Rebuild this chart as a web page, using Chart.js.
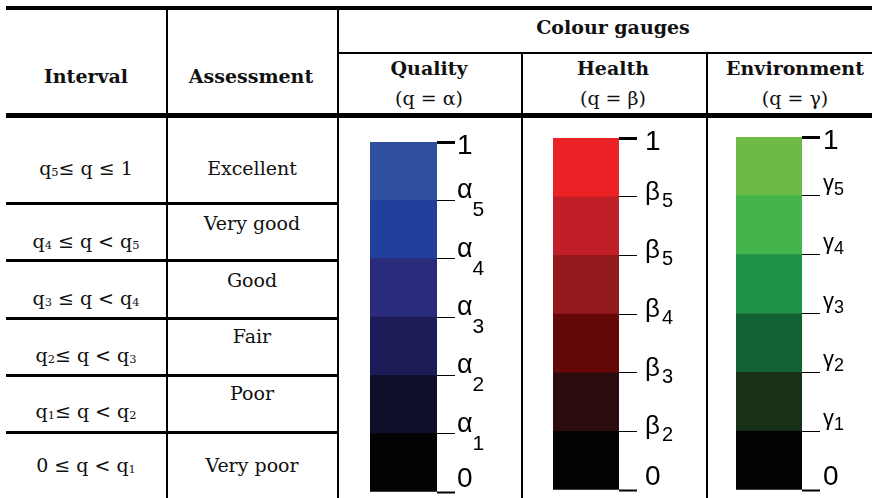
<!DOCTYPE html>
<html>
<head>
<meta charset="utf-8">
<script src="https://cdn.jsdelivr.net/npm/chart.js@4.4.1/dist/chart.umd.min.js"></script>
<style>
body{margin:0;width:872px;height:498px;overflow:hidden;background:#fff;position:relative;font-family:"DejaVu Serif",serif;color:#111}
.ln{position:absolute;background:#000}
.t{position:absolute;line-height:1;white-space:nowrap;transform:translateX(-50%)}
.b{font-weight:bold}
.s{font-size:0.6em;vertical-align:-0.12em}
canvas{position:absolute}
</style>
</head>
<body>
<canvas id="quality" width="140" height="368" style="left:360px;top:132px"></canvas>
<canvas id="health" width="139" height="370" style="left:543px;top:128px"></canvas>
<canvas id="environment" width="139" height="371" style="left:726px;top:127px"></canvas>
<script>
// table text
var intervals = [
    'q<span class="s">5</span>≤ q ≤ 1',
    'q<span class="s">4</span> ≤ q &lt; q<span class="s">5</span>',
    'q<span class="s">3</span> ≤ q &lt; q<span class="s">4</span>',
    'q<span class="s">2</span>≤ q &lt; q<span class="s">3</span>',
    'q<span class="s">1</span>≤ q &lt; q<span class="s">2</span>',
    '0 ≤ q &lt; q<span class="s">1</span>'
];
var assessments = ["Excellent", "Very good", "Good", "Fair", "Poor", "Very poor"];
var gaugeNames = ["Quality", "Health", "Environment"];
var gaugeSymbols = ["(q = α)", "(q = β)", "(q = γ)"];

// gauge data: class limits and colours, bottom to top
var thresholds = [0, 0.167, 0.333, 0.5, 0.667, 0.833, 1];
var qualityColours = ['#030303', '#0e0f2b', '#1e1b59', '#2b2b7b', '#22409b', '#2f4f9f'];
var healthColours = ['#030303', '#2b0b0d', '#640807', '#921a1d', '#c01f27', '#ec2326'];
var environmentColours = ['#030303', '#183018', '#116132', '#1f924a', '#43b54b', '#6dbb46'];
var qualityTicks = ['0', 'α1', 'α2', 'α3', 'α4', 'α5', '1'];
var healthTicks = ['0', 'β2', 'β3', 'β4', 'β5', 'β5', '1'];
var environmentTicks = ['0', 'γ1', 'γ2', 'γ3', 'γ4', 'γ5', '1'];

function line(x, y, w, h) {
    var d = document.createElement('div');
    d.className = 'ln';
    d.style.cssText = 'left:' + x + 'px;top:' + y + 'px;width:' + w + 'px;height:' + h + 'px';
    document.body.appendChild(d);
}
function put(html, cx, baseline, size, bold) {
    var d = document.createElement('div');
    d.className = 't' + (bold ? ' b' : '');
    d.style.fontSize = size + 'px';
    d.style.left = cx + 'px';
    d.style.top = (baseline - 0.846 * size) + 'px';
    d.innerHTML = html;
    document.body.appendChild(d);
}

// rules
line(6, 6, 866, 4);
line(6, 113, 866, 5);
line(338, 52, 534, 2);
line(166, 10, 2, 488);
line(337, 10, 2, 488);
line(521, 54, 2, 444);
line(706, 54, 2, 444);
[202, 259, 317, 374, 431].forEach(function (y) { line(6, y, 332, 3); });

// header
put("Interval", 86, 83, 19, true);
put("Assessment", 251, 83, 19, true);
put("Colour gauges", 613, 34, 19, true);
var headCx = [429, 613, 795];
gaugeNames.forEach(function (n, i) {
    put(n, headCx[i], 75, 19, true);
    put(gaugeSymbols[i], headCx[i], 105, 19, false);
});

// body
var intBase = [175, 248, 305, 362, 418, 472];
var assBase = [175, 230, 287, 343, 400, 472];
intervals.forEach(function (s, i) { put(s, 86, intBase[i], 19, false); });
assessments.forEach(function (s, i) { put(s, 252, assBase[i], 19, false); });

// tick labels with subscripts, placed on the scale's own tick positions
var gaugeLabels = {
    id: 'gaugeLabels',
    afterDraw: function (chart, args, o) {
        var s = chart.scales.y, c = chart.ctx;
        c.save();
        c.fillStyle = '#000';
        c.textAlign = 'left';
        c.textBaseline = 'alphabetic';
        s.ticks.forEach(function (t, i) {
            var y = s.getPixelForValue(t.value);
            var lab = o.labels[i];
            var x = s.right + o.dx;
            if (lab.length === 1) {
                c.font = '28px "Liberation Sans", Arial';
                c.fillText(lab, x, t.value === 1 ? y + 12 : y - 5);
            } else {
                c.font = o.greekFont;
                c.fillText(lab[0], x, y + o.greekDy);
                var w = c.measureText(lab[0]).width;
                c.font = o.subFont;
                c.fillText(lab.slice(1), x + w + o.gap, y + o.subDy);
            }
        });
        c.restore();
    }
};

function gauge(id, colours, labels, style) {
    var ctx = document.getElementById(id).getContext('2d');
    return new Chart(ctx, {
        type: 'bar',
        data: {
            labels: [''],
            datasets: colours.map(function (col, i) {
                return {
                    data: [[thresholds[i], thresholds[i + 1]]],
                    backgroundColor: col,
                    borderWidth: 0,
                    grouped: false,
                    barPercentage: 1,
                    categoryPercentage: 1
                };
            })
        },
        options: {
            responsive: false,
            animation: false,
            events: [],
            layout: { padding: { left: 10, top: 10, right: 45, bottom: 8 } },
            plugins: {
                legend: { display: false },
                tooltip: { enabled: false },
                gaugeLabels: Object.assign({ labels: labels }, style)
            },
            scales: {
                x: { display: false },
                y: {
                    position: 'right',
                    min: 0,
                    max: 1,
                    afterBuildTicks: function (sc) {
                        sc.ticks = thresholds.map(function (v) { return { value: v }; });
                    },
                    ticks: { display: false },
                    border: { display: false },
                    grid: {
                        drawOnChartArea: false,
                        drawTicks: true,
                        tickLength: 18,
                        tickColor: '#000',
                        tickWidth: function (c) {
                            if (!c.tick) return 1;
                            return c.tick.value === 1 ? 3 : (c.tick.value === 0 ? 2 : 1);
                        }
                    }
                }
            }
        },
        plugins: [gaugeLabels]
    });
}

gauge('quality', qualityColours, qualityTicks, {
    dx: 2, gap: 0,
    greekFont: '27px "Liberation Sans", Arial', greekDy: -2,
    subFont: '21px "Liberation Sans", Arial', subDy: 16
});
gauge('health', healthColours, healthTicks, {
    dx: 8, gap: 2,
    greekFont: '26px "Liberation Sans", Arial', greekDy: 3,
    subFont: '20px "Liberation Sans", Arial', subDy: 10
});
gauge('environment', environmentColours, environmentTicks, {
    dx: 3, gap: 0,
    greekFont: '22px "Liberation Sans", Arial', greekDy: -6,
    subFont: '18px "Liberation Sans", Arial', subDy: -1
});
</script>
</body>
</html>
